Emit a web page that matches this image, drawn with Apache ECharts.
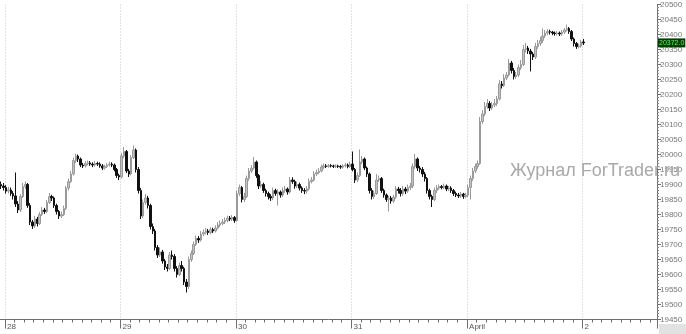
<!DOCTYPE html>
<html>
<head>
<meta charset="utf-8">
<script src="https://cdn.jsdelivr.net/npm/echarts@6/dist/echarts.min.js"></script>
<style>html,body{margin:0;padding:0;background:#fff}#c{width:686px;height:334px}</style>
</head>
<body>
<div id="c"></div>
<script>
// ---- data (30-minute bars) ----
const dayLabels = ['28', '29', '30', '31', 'April', '2'];
const yTicks = { min: 19450, max: 20500, step: 50 };

const openV = [
19900,19895,19890,19878,19882,19870,19862,19835,19815,19860,
19893,19900,19830,19775,19762,19785,19770,19800,19815,19810,
19840,19860,19855,19830,19810,19795,19800,19820,19888,19910,
19935,19980,19995,19985,19965,19962,19970,19972,19968,19965,
19970,19968,19962,19955,19960,19965,19968,19965,19950,19930,
19925,19995,20010,19945,19935,19990,20015,19950,19880,19795,
19840,19855,19830,19760,19745,19690,19665,19675,19645,19625,
19620,19665,19660,19620,19600,19630,19620,19575,19560,19650,
19670,19700,19720,19715,19735,19740,19745,19740,19750,19745,
19755,19765,19770,19775,19780,19788,19785,19790,19780,19870,
19890,19850,19860,19920,19945,19955,19975,19930,19895,19900,
19880,19870,19860,19855,19880,19870,19875,19865,19880,19885,
19875,19915,19910,19895,19900,19888,19880,19878,19885,19910,
19915,19935,19940,19945,19958,19962,19960,19963,19962,19960,
19962,19960,19958,19962,19965,19960,19968,19950,19915,19930,
19975,19985,19955,19935,19880,19860,19870,19915,19920,19880,
19865,19850,19855,19845,19858,19885,19880,19870,19885,19878,
19890,19895,19960,19985,19955,19950,19935,19920,19880,19860,
19850,19880,19888,19893,19890,19895,19885,19888,19880,19870,
19865,19862,19868,19860,19865,19890,19920,19945,19960,19970,
20110,20135,20160,20170,20155,20165,20170,20185,20235,20230,
20255,20265,20305,20280,20260,20265,20290,20300,20350,20355,
20345,20335,20325,20360,20370,20380,20395,20405,20410,20408,
20405,20403,20405,20402,20408,20415,20420,20410,20385,20370,
20360,20362,20375];

const closeV = [
19895,19890,19878,19882,19870,19862,19835,19815,19860,19893,
19900,19830,19775,19762,19785,19770,19800,19815,19810,19840,
19860,19855,19830,19810,19795,19800,19820,19888,19910,19935,
19980,19995,19985,19965,19962,19970,19972,19968,19965,19970,
19968,19962,19955,19960,19965,19968,19965,19950,19930,19925,
19995,20010,19945,19935,19990,20015,19950,19880,19795,19840,
19855,19830,19760,19745,19690,19665,19675,19645,19625,19620,
19665,19660,19620,19600,19630,19620,19575,19560,19650,19670,
19700,19720,19715,19735,19740,19745,19740,19750,19745,19755,
19765,19770,19775,19780,19788,19785,19790,19780,19870,19890,
19850,19860,19920,19945,19955,19975,19930,19895,19900,19880,
19870,19860,19855,19880,19870,19875,19865,19880,19885,19875,
19915,19910,19895,19900,19888,19880,19878,19885,19910,19915,
19935,19940,19945,19958,19962,19960,19963,19962,19960,19962,
19960,19958,19962,19965,19960,19968,19950,19915,19930,19975,
19985,19955,19935,19880,19860,19870,19915,19920,19880,19865,
19850,19855,19845,19858,19885,19880,19870,19885,19878,19890,
19895,19960,19985,19955,19950,19935,19920,19880,19860,19850,
19880,19888,19893,19890,19895,19885,19888,19880,19870,19865,
19862,19868,19860,19865,19890,19920,19945,19960,19970,20110,
20135,20160,20170,20155,20165,20170,20185,20235,20230,20255,
20265,20305,20280,20260,20265,20290,20300,20350,20355,20345,
20335,20325,20360,20370,20380,20395,20405,20410,20408,20405,
20403,20405,20402,20408,20415,20420,20410,20385,20370,20360,
20362,20375,20372];

const highV = [
19910,19905,19898,19892,19890,19878,19940,19845,19868,19905,
19910,19905,19838,19782,19795,19792,19808,19825,19822,19848,
19872,19866,19860,19836,19815,19810,19830,19895,19920,19945,
19990,20003,20000,19990,19972,19978,19980,19978,19974,19978,
19976,19974,19968,19966,19972,19976,19974,19970,19955,19936,
20005,20025,20015,19952,19998,20030,20020,19958,19888,19850,
19868,19862,19836,19770,19752,19698,19690,19682,19652,19635,
19675,19680,19668,19628,19640,19645,19626,19585,19660,19680,
19710,19730,19728,19745,19750,19755,19752,19758,19756,19764,
19775,19780,19785,19790,19796,19795,19798,19795,19880,19900,
19895,19872,19930,19955,19965,19992,19980,19935,19912,19906,
19886,19876,19868,19890,19886,19884,19880,19890,19895,19890,
19925,19924,19916,19910,19906,19894,19888,19895,19920,19925,
19945,19950,19955,19966,19970,19968,19968,19968,19966,19967,
19966,19965,19968,19972,19970,19976,20010,19955,19940,20017,
19995,19990,19960,19940,19888,19880,19935,19930,19925,19886,
19870,19862,19862,19866,19895,19892,19888,19895,19892,19900,
19905,19970,20002,19990,19962,19958,19942,19925,19886,19866,
19890,19898,19900,19898,19903,19900,19895,19894,19885,19876,
19872,19875,19872,19872,19900,19930,19955,19970,19980,20125,
20148,20175,20185,20178,20175,20185,20195,20248,20245,20268,
20275,20318,20312,20288,20275,20300,20315,20365,20372,20362,
20352,20342,20372,20382,20392,20420,20415,20418,20416,20412,
20410,20412,20410,20415,20422,20433,20425,20415,20390,20375,
20370,20382,20385];

const lowV = [
19885,19880,19870,19870,19862,19850,19825,19805,19808,19855,
19885,19822,19765,19752,19755,19760,19765,19795,19802,19805,
19835,19845,19822,19800,19785,19788,19795,19815,19880,19905,
19930,19972,19975,19958,19955,19957,19964,19962,19958,19960,
19962,19956,19948,19950,19955,19960,19958,19944,19922,19915,
19920,19988,19938,19925,19930,19985,19940,19870,19785,19788,
19832,19820,19750,19735,19680,19655,19658,19636,19615,19610,
19615,19650,19610,19590,19595,19610,19565,19540,19552,19642,
19665,19695,19705,19710,19728,19734,19732,19734,19738,19740,
19750,19758,19764,19768,19774,19778,19778,19772,19775,19862,
19840,19842,19855,19912,19938,19950,19922,19885,19888,19872,
19860,19850,19845,19848,19862,19830,19856,19858,19872,19866,
19870,19902,19886,19888,19880,19872,19868,19870,19880,19904,
19910,19928,19934,19940,19952,19955,19956,19957,19955,19955,
19955,19952,19953,19957,19954,19955,19944,19905,19908,19925,
19968,19948,19925,19870,19850,19852,19865,19908,19872,19856,
19842,19810,19836,19838,19852,19870,19860,19862,19868,19872,
19882,19888,19952,19945,19940,19925,19910,19870,19850,19825,
19845,19872,19882,19884,19884,19878,19878,19872,19862,19858,
19855,19855,19852,19854,19858,19850,19912,19938,19952,19965,
20102,20128,20152,20145,20148,20158,20162,20180,20220,20225,
20248,20260,20270,20250,20252,20258,20282,20295,20340,20335,
20277,20315,20318,20352,20362,20372,20388,20398,20400,20398,
20396,20397,20395,20396,20402,20410,20402,20378,20360,20352,
20354,20356,20365];

// ---- categories: 2 bars of the 27th, then 48 half-hour bars per day ----
const LEAD = 2, PER_DAY = 48, TOTAL = 273;
const dayNames = ['28', '29', '30', '31', '1', '2', '3'];
const categories = [];
for (let i = 0; i < TOTAL; i++) {
  const k = i - LEAD;
  const d = Math.floor(k / PER_DAY);
  const slot = ((k % PER_DAY) + PER_DAY) % PER_DAY;
  const hh = String(Math.floor(slot / 2)).padStart(2, '0');
  const mm = slot % 2 ? '30' : '00';
  categories.push((d < 0 ? '27' : dayNames[d]) + ' ' + hh + ':' + mm);
}
const candles = openV.map((o, i) => [o, closeV[i], lowV[i], highV[i]]);
const lastClose = closeV[closeV.length - 1];

const isDayStart = (idx) => idx >= LEAD && (idx - LEAD) % PER_DAY === 0;
const isTwoHour = (idx) => (idx - LEAD) % 4 === 0;

const chart = echarts.init(document.getElementById('c'), null, { renderer: 'canvas' });
chart.setOption({
  animation: false,
  backgroundColor: '#ffffff',
  grid: { left: 0, right: 29, top: 4.5, bottom: 14.5, containLabel: false },
  xAxis: [
    {
      type: 'category', data: categories, boundaryGap: true, position: 'bottom',
      axisLine: { show: true, lineStyle: { color: '#6e6e6e', width: 1 } },
      axisTick: { show: true, length: 3, interval: (i) => isTwoHour(i), lineStyle: { color: '#6e6e6e' } },
      axisLabel: { show: false },
      splitLine: { show: false }
    },
    {
      type: 'category', data: categories, boundaryGap: true, position: 'bottom',
      axisLine: { show: false },
      axisTick: { show: true, length: 9, interval: (i) => isDayStart(i), lineStyle: { color: '#6e6e6e' } },
      axisLabel: {
        show: true, interval: (i) => isDayStart(i), align: 'left', margin: 3,
        padding: [0, 0, 0, 1], fontSize: 8, color: '#555', fontFamily: 'Liberation Sans',
        formatter: (v, i) => dayLabels[Math.floor((i - LEAD) / PER_DAY)] || ''
      },
      splitLine: { show: true, interval: (i) => isDayStart(i), lineStyle: { color: '#c4c4c4', type: [1, 2], width: 1 } }
    }
  ],
  yAxis: {
    type: 'value', position: 'right', min: yTicks.min, max: yTicks.max, interval: yTicks.step,
    axisLine: { show: true, lineStyle: { color: '#6e6e6e' } },
    axisTick: { show: true, length: 4, lineStyle: { color: '#6e6e6e' } },
    minorTick: { show: true, splitNumber: 5, length: 2, lineStyle: { color: '#8a8a8a' } },
    axisLabel: { fontSize: 8, color: '#777', margin: 3, fontFamily: 'Liberation Sans',
      formatter: (v) => String(v) },
    splitLine: { show: false }
  },
  series: [{
    type: 'candlestick',
    xAxisIndex: 0,
    data: candles,
    barWidth: 2,
    itemStyle: {
      color: '#c2c2c2', color0: '#111111',
      borderColor: '#9a9a9a', borderColor0: '#111111', borderWidth: 1
    },
    markLine: {
      silent: true, symbol: 'none',
      lineStyle: { color: 'rgba(0,0,0,0)', width: 1, type: 'solid' },
      label: {
        show: true, position: 'end', distance: 1,
        formatter: (p) => Number(p.value).toFixed(1),
        backgroundColor: '#083a08', color: '#4cff4c', fontSize: 7,
        padding: [1, 1, 1, 1], fontFamily: 'Liberation Sans', opacity: 1
      },
      data: [{ yAxis: lastClose }]
    }
  }],
  graphic: [
    { type: 'rect', x: 659, y: 324, shape: { x: 0, y: 0, width: 27, height: 10 }, style: { fill: '#e2e2e2' }, z: 50 },
    { type: 'text', x: 510, y: 162, z: 100,
      style: { text: 'Журнал ForTrader.ru', fontSize: 18, fill: '#a9a9a9', fontFamily: 'Liberation Sans' } }
  ]
});
</script>
</body>
</html>
